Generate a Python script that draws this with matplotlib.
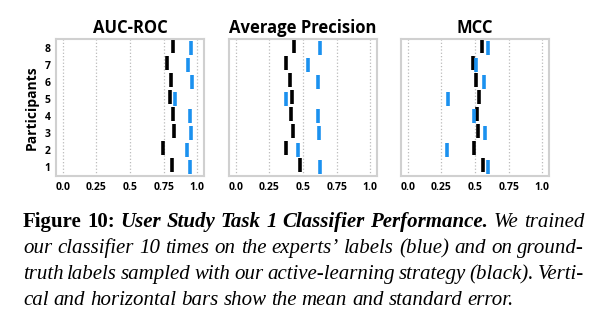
import matplotlib.pyplot as plt
import numpy as np

# participants 1..8, mean scores
participants = [1, 2, 3, 4, 5, 6, 7, 8]
titles = ['AUC-ROC', 'Average Precision', 'MCC']
auc_expert = [0.948, 0.923, 0.956, 0.946, 0.832, 0.960, 0.931, 0.956]
auc_active = [0.815, 0.746, 0.825, 0.822, 0.800, 0.802, 0.773, 0.817]
ap_expert = [0.623, 0.464, 0.620, 0.610, 0.372, 0.613, 0.536, 0.623]
ap_active = [0.479, 0.377, 0.429, 0.414, 0.419, 0.405, 0.377, 0.432]
mcc_expert = [0.596, 0.295, 0.576, 0.489, 0.300, 0.566, 0.506, 0.598]
mcc_active = [0.561, 0.489, 0.524, 0.514, 0.529, 0.509, 0.486, 0.551]
xticks = [0.0, 0.25, 0.5, 0.75, 1.0]
xtick_labels = ['0.0', '0.25', '0.5', '0.75', '1.0']

BLUE = '#1b91ef'
BLACK = '#000000'
SANS = 'Open Sans'

W, H = 598, 325
fig = plt.figure(figsize=(W / 100, H / 100), dpi=100)

lefts = [56, 229, 401]
panel_w, top, bottom = 148, 39, 176
data = [(auc_expert, auc_active), (ap_expert, ap_active), (mcc_expert, mcc_active)]

y = np.array(participants)
for i, (title, (expert, active)) in enumerate(zip(titles, data)):
    ax = fig.add_axes([lefts[i] / W, 1 - bottom / H, panel_w / W, (bottom - top) / H])
    ax.plot(active, y + 0.12, linestyle='none', marker='|', ms=9.5, mew=2.6, color=BLACK)
    ax.plot(expert, y, linestyle='none', marker='|', ms=9.5, mew=2.6, color=BLUE)
    ax.set_xlim(-0.05, 1.05)
    ax.set_ylim(0.5, 8.5)
    ax.set_xticks(xticks)
    ax.set_xticklabels(xtick_labels, fontsize=7.5, fontweight='bold', family=SANS)
    ax.set_yticks(participants)
    if i == 0:
        ax.set_yticklabels([str(p) for p in participants], fontsize=7.5, fontweight='bold', family=SANS)
        ax.set_ylabel('Participants', fontsize=10, fontweight='bold', family=SANS, labelpad=4)
    else:
        ax.set_yticklabels([])
    ax.tick_params(length=0, pad=4)
    ax.grid(True, axis='x', linestyle=':', color='#bbbbbb', linewidth=0.9)
    ax.set_axisbelow(True)
    for s in ax.spines.values():
        s.set_color('#d0d0d0')
        s.set_linewidth(1.5)
    ax.set_title(title, fontsize=12, fontweight='bold', family=SANS, pad=4)

# caption, set as justified lines
B, BI, I = ('bold', 'normal'), ('bold', 'italic'), ('normal', 'italic')
lines = [
    [('Figure', B), ('10:', B)] + [(w, BI) for w in 'User Study Task 1 Classifier Performance.'.split()]
    + [(w, I) for w in 'We trained'.split()],
    [(w, I) for w in 'our classifier 10 times on the experts’ labels (blue) and on ground-'.split()],
    [(w, I) for w in 'truth labels sampled with our active-learning strategy (black). Verti-'.split()],
    [(w, I) for w in 'cal and horizontal bars show the mean and standard error.'.split()],
]
baselines = [227, 253, 279, 305]
x0, x1 = 23, 584
renderer = fig.canvas.get_renderer()
for n, (words, yb) in enumerate(zip(lines, baselines)):
    texts = [fig.text(0, 1 - yb / H, w, fontsize=15, family='Liberation Serif',
                      fontweight=st[0], fontstyle=st[1], va='baseline') for w, st in words]
    widths = [t.get_window_extent(renderer).width for t in texts]
    if n < len(lines) - 1:
        gap = (x1 - x0 - sum(widths)) / (len(words) - 1)
    else:
        gap = 5.0
    x = x0
    for t, w in zip(texts, widths):
        t.set_x(x / W)
        x += w + gap

fig.savefig('out.png', dpi=100)
